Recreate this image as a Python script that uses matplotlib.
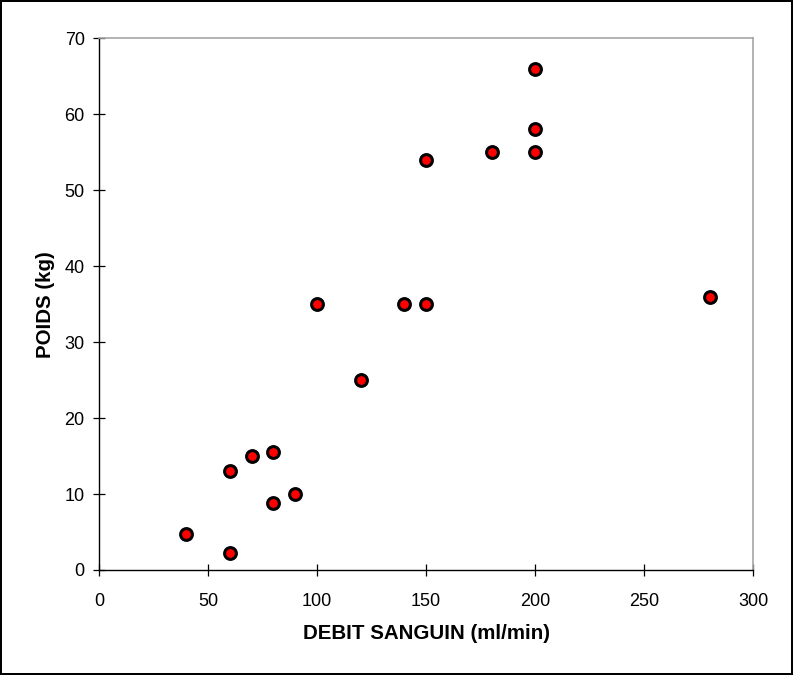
import matplotlib
matplotlib.use("Agg")
import matplotlib.pyplot as plt

debit = [40, 60, 60, 70, 80, 80, 90, 100, 120, 140, 150, 150, 180, 200, 200, 200, 280]
poids = [4.8, 2.3, 13, 15, 15.5, 8.8, 10, 35, 25, 35, 35, 54, 55, 55, 58, 66, 36]
xticks = [0, 50, 100, 150, 200, 250, 300]
yticks = [0, 10, 20, 30, 40, 50, 60, 70]

plt.rcParams['font.family'] = ['Liberation Sans', 'DejaVu Sans']

fig = plt.figure(figsize=(7.93, 6.75), dpi=100)
fig.patch.set_edgecolor('black')
fig.patch.set_linewidth(1.5)
W, H = 793, 675
ax = fig.add_axes([99 / W, 1 - 570 / H, (753.3 - 99) / W, (570 - 38.3) / H])

ax.scatter(debit, poids, s=72, c='#ff0000', edgecolors='black', linewidths=2.2, zorder=3, clip_on=False)

ax.set_xlim(0, 300)
ax.set_ylim(0, 70)
ax.set_xticks(xticks)
ax.set_yticks(yticks)
ax.tick_params(direction='inout', length=8.6, width=0.9, labelsize=13, colors='black')
ax.tick_params(axis='x', pad=12)
ax.tick_params(axis='y', pad=6)

for s in ['left', 'bottom']:
    ax.spines[s].set_color('black')
    ax.spines[s].set_linewidth(1.0)
for s in ['top', 'right']:
    ax.spines[s].set_color('#a6a6a6')
    ax.spines[s].set_linewidth(1.2)

ax.set_xlabel('DEBIT SANGUIN (ml/min)', fontsize=14.8, fontweight='bold', labelpad=10)
ax.set_ylabel('POIDS (kg)', fontsize=14.8, fontweight='bold', labelpad=7)

fig.savefig('out.png', dpi=100, edgecolor=fig.get_edgecolor())
